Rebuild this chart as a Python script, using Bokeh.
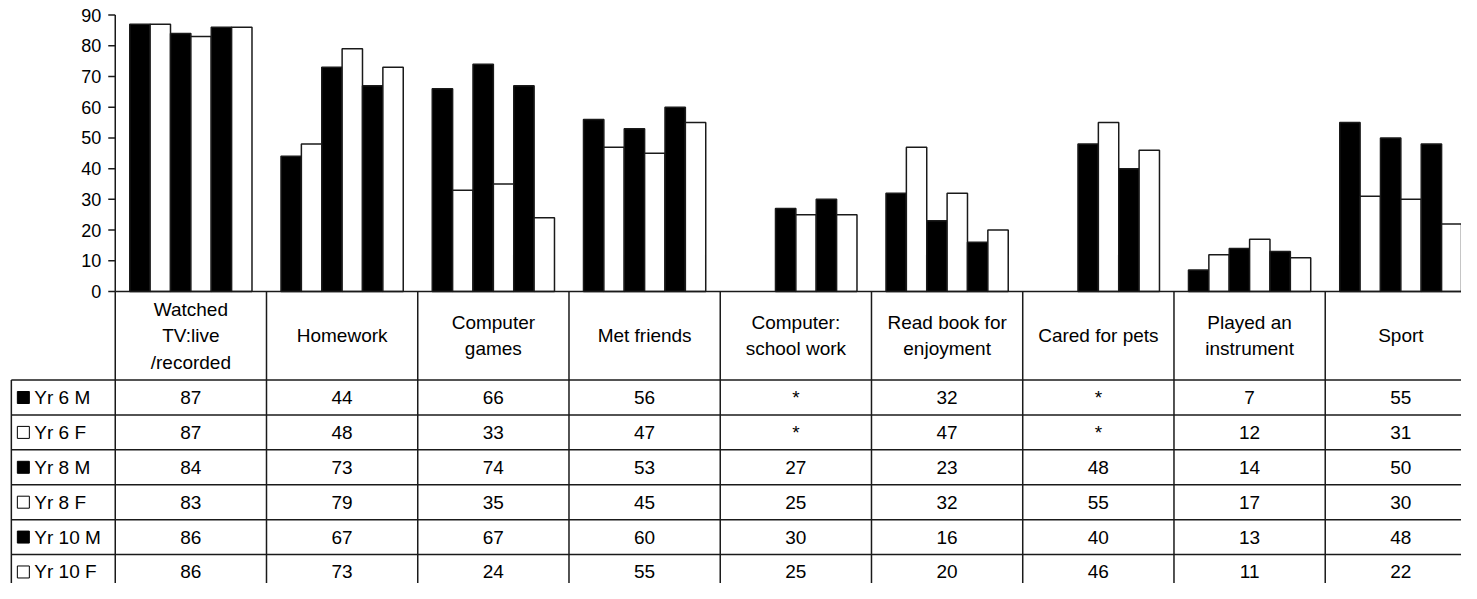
from bokeh.plotting import figure
from bokeh.models import Range1d, ColumnDataSource
from bokeh.core.properties import value
from bokeh.embed import file_html
from bokeh.resources import INLINE

# ---------------- data ----------------
categories = ["Watched\nTV:live\n/recorded", "Homework", "Computer\ngames", "Met friends",
              "Computer:\nschool work", "Read book for\nenjoyment", "Cared for pets",
              "Played an\ninstrument", "Sport"]
series_names = ["Yr 6 M", "Yr 6 F", "Yr 8 M", "Yr 8 F", "Yr 10 M", "Yr 10 F"]
yr6_m = [87, 44, 66, 56, None, 32, None, 7, 55]
yr6_f = [87, 48, 33, 47, None, 47, None, 12, 31]
yr8_m = [84, 73, 74, 53, 27, 23, 48, 14, 50]
yr8_f = [83, 79, 35, 45, 25, 32, 55, 17, 30]
yr10_m = [86, 67, 67, 60, 30, 16, 40, 13, 48]
yr10_f = [86, 73, 24, 55, 25, 20, 46, 11, 22]
series_values = [yr6_m, yr6_f, yr8_m, yr8_f, yr10_m, yr10_f]
series_fill = ["black", "white", "black", "white", "black", "white"]
y_ticks = [0, 10, 20, 30, 40, 50, 60, 70, 80, 90]

# ---------------- layout (styles / geometry) ----------------
FONT = value("Liberation Sans")
FS_TICK = "18px"
FS = "19px"
LINE = "#1a1a1a"
BAR_W = 0.1347
HEADER_H = 28.83      # y-units of header row
ROW_H = 11.36         # y-units of each data row
LEG_LEFT = -0.687     # left border of legend column (category units)
TABLE_RIGHT = 9.0
X0, X1 = -0.7587, 8.901
Y0, Y1 = -95.06, 94.74
n_cat = len(categories)
W, H = 1461, 583
px_per_x = W / (X1 - X0)

p = figure(width=W, height=H, output_backend="svg", toolbar_location=None,
           x_range=Range1d(X0, X1), y_range=Range1d(Y0, Y1),
           x_axis_type=None, y_axis_type=None, min_border=0,
           outline_line_color=None, background_fill_color="white",
           border_fill_color="white")

# bars
for k, (vals, fill) in enumerate(zip(series_values, series_fill)):
    xs, tops = [], []
    for i, v in enumerate(vals):
        if v is not None:
            xs.append(i + 0.5 + (k - 2.5) * BAR_W)
            tops.append(v)
    src = ColumnDataSource(dict(x=xs, top=tops))
    p.vbar(x="x", top="top", bottom=0, width=BAR_W, source=src,
           fill_color=fill, line_color=LINE, line_width=1.5)

# y axis (drawn in data space)
p.segment(x0=[0], y0=[0], x1=[0], y1=[max(y_ticks)], line_color=LINE, line_width=1.5)
tick_len = 7 / px_per_x
p.segment(x0=[-tick_len] * len(y_ticks), y0=y_ticks, x1=[0] * len(y_ticks), y1=y_ticks,
          line_color=LINE, line_width=1.5)
p.text(x=[-14 / px_per_x] * len(y_ticks), y=y_ticks, text=[str(t) for t in y_ticks],
       text_align="right", text_baseline="middle", text_font=FONT,
       text_font_size=FS_TICK, text_color="black")

# x axis line / table top
p.segment(x0=[0], y0=[0], x1=[TABLE_RIGHT], y1=[0], line_color=LINE, line_width=1.5)

# table vertical lines for categories
p.segment(x0=list(range(n_cat + 1)), y0=[0] * (n_cat + 1),
          x1=list(range(n_cat + 1)), y1=[Y0 - 5] * (n_cat + 1),
          line_color=LINE, line_width=1.5)
# legend column left border
p.segment(x0=[LEG_LEFT], y0=[-HEADER_H], x1=[LEG_LEFT], y1=[Y0 - 5],
          line_color=LINE, line_width=1.5)
# horizontal row lines
row_lines = [-HEADER_H - ROW_H * r for r in range(len(series_names) + 1)]
p.segment(x0=[LEG_LEFT] * len(row_lines), y0=row_lines,
          x1=[TABLE_RIGHT] * len(row_lines), y1=row_lines,
          line_color=LINE, line_width=1.5)

# header texts
p.text(x=[i + 0.5 for i in range(n_cat)], y=[-HEADER_H / 2] * n_cat, text=categories,
       text_align="center", text_baseline="middle", text_font=FONT,
       text_font_size=FS, text_line_height=1.25, text_color="black")

# legend column
row_centers = [-HEADER_H - ROW_H * (r + 0.5) for r in range(len(series_names))]
p.scatter(x=[LEG_LEFT + 12 / px_per_x] * len(series_names), y=row_centers,
          marker="square", size=12,
          fill_color=series_fill, line_color="black", line_width=1)
p.text(x=[LEG_LEFT + 23 / px_per_x] * len(series_names), y=row_centers, text=series_names,
       text_align="left", text_baseline="middle", text_font=FONT,
       text_font_size=FS, text_color="black")

# cell values
cx, cy, ct = [], [], []
for r, vals in enumerate(series_values):
    for i, v in enumerate(vals):
        cx.append(i + 0.5)
        cy.append(row_centers[r])
        ct.append("*" if v is None else str(v))
p.text(x=cx, y=cy, text=ct, text_align="center", text_baseline="middle",
       text_font=FONT, text_font_size=FS, text_color="black")

open("out.html", "w").write(file_html(p, INLINE))
